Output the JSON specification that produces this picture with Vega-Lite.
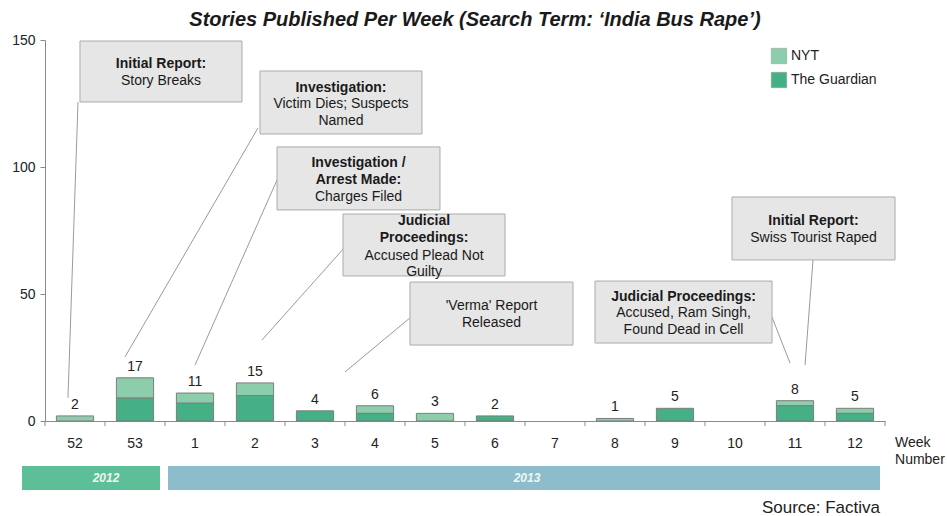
{
  "$schema": "https://vega.github.io/schema/vega-lite/v6.json",
  "width": 840,
  "height": 381,
  "autosize": "none",
  "padding": {"left": 45, "top": 40, "right": 62, "bottom": 95},
  "background": "white",
  "config": {
    "font": "Liberation Sans",
    "view": {"stroke": null},
    "axis": {"labelFont": "Liberation Sans", "labelFontSize": 14, "labelColor": "#222", "domainColor": "#8a8a8a", "tickColor": "#8a8a8a", "grid": false, "title": null}
  },
  "title": {
    "text": "Stories Published Per Week (Search Term: ‘India Bus Rape’)",
    "font": "Liberation Sans",
    "fontSize": 20,
    "fontWeight": "bold",
    "fontStyle": "italic",
    "color": "#1a1a1a",
    "anchor": "middle",
    "frame": "group",
    "dx": 10,
    "offset": 3
  },
  "datasets": {
    "bars": [
      {"week": "52", "source": "NYT", "count": 2},
      {"week": "53", "source": "NYT", "count": 8},
      {"week": "53", "source": "The Guardian", "count": 9},
      {"week": "1", "source": "NYT", "count": 4},
      {"week": "1", "source": "The Guardian", "count": 7},
      {"week": "2", "source": "NYT", "count": 5},
      {"week": "2", "source": "The Guardian", "count": 10},
      {"week": "3", "source": "The Guardian", "count": 4},
      {"week": "4", "source": "NYT", "count": 3},
      {"week": "4", "source": "The Guardian", "count": 3},
      {"week": "5", "source": "NYT", "count": 3},
      {"week": "6", "source": "The Guardian", "count": 2},
      {"week": "8", "source": "NYT", "count": 1},
      {"week": "9", "source": "The Guardian", "count": 5},
      {"week": "11", "source": "NYT", "count": 2},
      {"week": "11", "source": "The Guardian", "count": 6},
      {"week": "12", "source": "NYT", "count": 2},
      {"week": "12", "source": "The Guardian", "count": 3}
    ],
    "totals": [
      {"week": "52", "total": 2},
      {"week": "53", "total": 17},
      {"week": "1", "total": 11},
      {"week": "2", "total": 15},
      {"week": "3", "total": 4},
      {"week": "4", "total": 6},
      {"week": "5", "total": 3},
      {"week": "6", "total": 2},
      {"week": "8", "total": 1},
      {"week": "9", "total": 5},
      {"week": "11", "total": 8},
      {"week": "12", "total": 5}
    ],
    "ticks": [
      {"x": 0}, {"x": 1}, {"x": 2}, {"x": 3}, {"x": 4}, {"x": 5}, {"x": 6}, {"x": 7},
      {"x": 8}, {"x": 9}, {"x": 10}, {"x": 11}, {"x": 12}, {"x": 13}, {"x": 14}
    ],
    "boxes": [
      {"x1": 0.583, "x2": 3.283, "y1": 149.6, "y2": 125.6},
      {"x1": 3.583, "x2": 6.283, "y1": 137.8, "y2": 113.0},
      {"x1": 3.867, "x2": 6.583, "y1": 107.9, "y2": 83.1},
      {"x1": 4.967, "x2": 7.667, "y1": 81.5, "y2": 57.1},
      {"x1": 6.083, "x2": 8.8, "y1": 54.7, "y2": 29.9},
      {"x1": 9.167, "x2": 12.117, "y1": 55.1, "y2": 30.7},
      {"x1": 11.45, "x2": 14.167, "y1": 88.2, "y2": 63.4}
    ],
    "leaders": [
      {"x1": 0.55, "y1": 125.6, "x2": 0.383, "y2": 9.1},
      {"x1": 3.55, "y1": 115.4, "x2": 1.333, "y2": 25.2},
      {"x1": 3.867, "y1": 94.9, "x2": 2.5, "y2": 22.0},
      {"x1": 5.0, "y1": 68.5, "x2": 3.617, "y2": 31.9},
      {"x1": 6.083, "y1": 40.6, "x2": 5.0, "y2": 19.3},
      {"x1": 12.117, "y1": 40.9, "x2": 12.417, "y2": 22.8},
      {"x1": 12.8, "y1": 63.4, "x2": 12.667, "y2": 22.0}
    ],
    "notes": [
      {"x": 1.933, "y": 140.6, "label": "Initial Report:", "bold": true},
      {"x": 1.933, "y": 133.9, "label": "Story Breaks", "bold": false},
      {"x": 4.933, "y": 131.1, "label": "Investigation:", "bold": true},
      {"x": 4.933, "y": 124.8, "label": "Victim Dies; Suspects", "bold": false},
      {"x": 4.933, "y": 118.1, "label": "Named", "bold": false},
      {"x": 5.225, "y": 101.6, "label": "Investigation /", "bold": true},
      {"x": 5.225, "y": 94.9, "label": "Arrest Made:", "bold": true},
      {"x": 5.225, "y": 88.2, "label": "Charges Filed", "bold": false},
      {"x": 6.317, "y": 78.7, "label": "Judicial", "bold": true},
      {"x": 6.317, "y": 72.0, "label": "Proceedings:", "bold": true},
      {"x": 6.317, "y": 65.0, "label": "Accused Plead Not", "bold": false},
      {"x": 6.317, "y": 58.7, "label": "Guilty", "bold": false},
      {"x": 7.442, "y": 45.3, "label": "'Verma' Report", "bold": false},
      {"x": 7.442, "y": 38.6, "label": "Released", "bold": false},
      {"x": 10.642, "y": 48.8, "label": "Judicial Proceedings:", "bold": true},
      {"x": 10.642, "y": 42.5, "label": "Accused, Ram Singh,", "bold": false},
      {"x": 10.642, "y": 35.8, "label": "Found Dead in Cell", "bold": false},
      {"x": 12.808, "y": 78.7, "label": "Initial Report:", "bold": true},
      {"x": 12.808, "y": 72.0, "label": "Swiss Tourist Raped", "bold": false}
    ],
    "years": [
      {"year": "2012", "x1": -0.383, "x2": 1.917, "xm": 1.017, "y1": -17.7, "y2": -27.2, "ym": -22.4},
      {"year": "2013", "x1": 2.05, "x2": 13.917, "xm": 8.033, "y1": -17.7, "y2": -27.2, "ym": -22.4}
    ],
    "extras": [
      {"x": 14.167, "y": -8.7, "label": "Week"},
      {"x": 14.167, "y": -15.4, "label": "Number"}
    ],
    "source": [
      {"x": 13.917, "y": -34.3, "label": "Source: Factiva"}
    ]
  },
  "resolve": {"scale": {"x": "independent"}},
  "layer": [
    {
      "data": {"name": "bars"},
      "mark": {"type": "bar", "stroke": "#7d7d7d", "strokeWidth": 1},
      "encoding": {
        "x": {
          "field": "week", "type": "nominal",
          "sort": ["52", "53", "1", "2", "3", "4", "5", "6", "7", "8", "9", "10", "11", "12"],
          "scale": {"domain": ["52", "53", "1", "2", "3", "4", "5", "6", "7", "8", "9", "10", "11", "12"], "paddingInner": 0.38, "paddingOuter": 0.19},
          "axis": {"labelAngle": 0, "ticks": false, "labelPadding": 15}
        },
        "y": {
          "field": "count", "type": "quantitative", "stack": "zero",
          "scale": {"domain": [0, 150], "nice": false},
          "axis": {"values": [0, 50, 100, 150], "tickSize": 5, "labelPadding": 5}
        },
        "color": {
          "field": "source", "type": "nominal",
          "scale": {"domain": ["NYT", "The Guardian"], "range": ["#8ccdac", "#45b086"]},
          "legend": {
            "title": null, "orient": "top-right", "offset": 8,
            "symbolType": "square", "symbolSize": 240, "symbolStrokeColor": "#999", "symbolStrokeWidth": 0.5,
            "labelFont": "Liberation Sans", "labelFontSize": 14, "labelColor": "#222", "rowPadding": 6
          }
        },
        "order": {"field": "source", "sort": "descending"}
      }
    },
    {
      "data": {"name": "totals"},
      "mark": {"type": "text", "baseline": "bottom", "dy": -4, "fontSize": 14, "color": "#222"},
      "encoding": {
        "x": {
          "field": "week", "type": "nominal",
          "sort": ["52", "53", "1", "2", "3", "4", "5", "6", "7", "8", "9", "10", "11", "12"],
          "scale": {"domain": ["52", "53", "1", "2", "3", "4", "5", "6", "7", "8", "9", "10", "11", "12"], "paddingInner": 0.38, "paddingOuter": 0.19},
          "axis": null
        },
        "y": {"field": "total", "type": "quantitative"},
        "text": {"field": "total", "type": "quantitative"}
      }
    },
    {
      "data": {"name": "ticks"},
      "transform": [{"fold": ["x"], "as": ["k", "v"]}],
      "mark": {"type": "rule", "color": "#8a8a8a", "strokeWidth": 1},
      "encoding": {
        "x": {"field": "x", "type": "quantitative", "scale": {"domain": [0, 14], "nice": false, "zero": false}, "axis": null},
        "y": {"datum": 0, "type": "quantitative"},
        "y2": {"datum": -2}
      }
    },
    {
      "data": {"name": "leaders"},
      "mark": {"type": "rule", "color": "#9a9a9a", "strokeWidth": 1},
      "encoding": {
        "x": {"field": "x1", "type": "quantitative", "scale": {"domain": [0, 14], "nice": false, "zero": false}, "axis": null},
        "x2": {"field": "x2"},
        "y": {"field": "y1", "type": "quantitative"},
        "y2": {"field": "y2"}
      }
    },
    {
      "data": {"name": "boxes"},
      "mark": {"type": "rect", "fill": "#e6e6e6", "stroke": "#ababab", "strokeWidth": 1},
      "encoding": {
        "x": {"field": "x1", "type": "quantitative", "scale": {"domain": [0, 14], "nice": false, "zero": false}, "axis": null},
        "x2": {"field": "x2"},
        "y": {"field": "y1", "type": "quantitative"},
        "y2": {"field": "y2"}
      }
    },
    {
      "data": {"name": "notes"},
      "transform": [{"filter": "datum.bold"}],
      "mark": {"type": "text", "fontSize": 14, "fontWeight": "bold", "color": "#1a1a1a", "baseline": "middle", "align": "center"},
      "encoding": {
        "x": {"field": "x", "type": "quantitative", "scale": {"domain": [0, 14], "nice": false, "zero": false}, "axis": null},
        "y": {"field": "y", "type": "quantitative"},
        "text": {"field": "label"}
      }
    },
    {
      "data": {"name": "notes"},
      "transform": [{"filter": "!datum.bold"}],
      "mark": {"type": "text", "fontSize": 14, "color": "#1a1a1a", "baseline": "middle", "align": "center"},
      "encoding": {
        "x": {"field": "x", "type": "quantitative", "scale": {"domain": [0, 14], "nice": false, "zero": false}, "axis": null},
        "y": {"field": "y", "type": "quantitative"},
        "text": {"field": "label"}
      }
    },
    {
      "data": {"name": "years"},
      "mark": {"type": "rect", "stroke": null},
      "encoding": {
        "x": {"field": "x1", "type": "quantitative", "scale": {"domain": [0, 14], "nice": false, "zero": false}, "axis": null},
        "x2": {"field": "x2"},
        "y": {"field": "y1", "type": "quantitative"},
        "y2": {"field": "y2"},
        "fill": {"field": "year", "type": "nominal", "scale": {"domain": ["2012", "2013"], "range": ["#5cbf98", "#8dbdca"]}, "legend": null}
      }
    },
    {
      "data": {"name": "years"},
      "mark": {"type": "text", "fontSize": 12, "fontStyle": "italic", "fontWeight": "bold", "font": "Liberation Sans", "color": "#eef6f4", "baseline": "middle", "align": "center"},
      "encoding": {
        "x": {"field": "xm", "type": "quantitative", "scale": {"domain": [0, 14], "nice": false, "zero": false}, "axis": null},
        "y": {"field": "ym", "type": "quantitative"},
        "text": {"field": "year"}
      }
    },
    {
      "data": {"name": "extras"},
      "mark": {"type": "text", "fontSize": 14, "color": "#222", "baseline": "middle", "align": "left"},
      "encoding": {
        "x": {"field": "x", "type": "quantitative", "scale": {"domain": [0, 14], "nice": false, "zero": false}, "axis": null},
        "y": {"field": "y", "type": "quantitative"},
        "text": {"field": "label"}
      }
    },
    {
      "data": {"name": "source"},
      "mark": {"type": "text", "fontSize": 17, "color": "#222", "baseline": "middle", "align": "right"},
      "encoding": {
        "x": {"field": "x", "type": "quantitative", "scale": {"domain": [0, 14], "nice": false, "zero": false}, "axis": null},
        "y": {"field": "y", "type": "quantitative"},
        "text": {"field": "label"}
      }
    }
  ]
}
